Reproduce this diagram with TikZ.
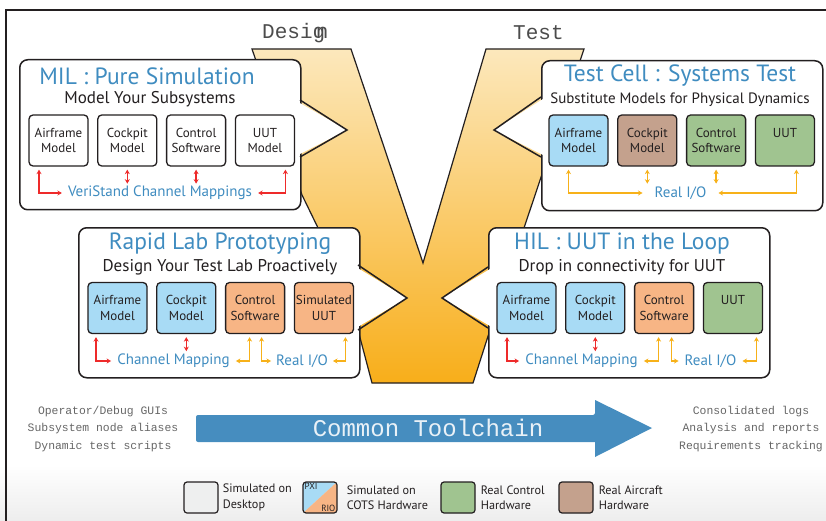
\documentclass[tikz,border=0pt]{standalone}
\usepackage{fontspec}
\setmainfont{PT Sans}
\newfontfamily\monof{Liberation Mono}
\usetikzlibrary{calc}
\usetikzlibrary{arrows.meta}
\usetikzlibrary{positioning}

\definecolor{titleblue}{HTML}{3F8CC0}
\definecolor{boxblue}{HTML}{A8DBF5}
\definecolor{boxorange}{HTML}{F7B585}
\definecolor{boxgreen}{HTML}{A0C490}
\definecolor{boxbrown}{HTML}{C4A18D}
\definecolor{boxgray}{HTML}{EEEFEF}
\definecolor{mapred}{HTML}{EE2A2A}
\definecolor{ioyellow}{HTML}{F7B119}
\definecolor{vtop}{HTML}{FCE8BC}
\definecolor{vbottom}{HTML}{F8AE1A}
\definecolor{toolblue}{HTML}{468DBF}
\definecolor{inkgray}{HTML}{231F20}

\tikzset{
    panel/.style={draw=inkgray,line width=1.5pt,rounded corners=8pt,fill=white,anchor=north west,
        minimum width=281pt,minimum height=150pt,inner sep=0pt},
    sub/.style={draw=inkgray,line width=1.3pt,rounded corners=4pt,minimum width=59pt,minimum height=51pt,
        inner sep=0pt,align=center,text=inkgray,font=\fontsize{13}{15.5}\selectfont},
    title/.style={text=titleblue,font=\fontsize{23.5}{23.5}\selectfont,inner sep=0pt},
    subtitle/.style={text=inkgray,font=\fontsize{17}{17}\selectfont,inner sep=0pt},
    lbl/.style={text=titleblue,font=\fontsize{15}{15}\selectfont,inner ysep=2pt},
    maparr/.style={draw=mapred,line width=1.4pt},
    ioarr/.style={draw=ioyellow,line width=1.4pt},
    vlabel/.style={text=black!70,font=\monof\fontsize{21}{21}\selectfont,inner sep=0pt,anchor=west},
    sidetext/.style={text=black!60,align=center,font=\monof\fontsize{11.4}{17.5}\selectfont},
    legbox/.style={draw=inkgray,line width=1.2pt,rounded corners=3pt,minimum width=34pt,minimum height=31pt,inner sep=0pt},
    legtxt/.style={text=inkgray,align=left,font=\fontsize{12.2}{15.5}\selectfont,inner sep=0pt},
}

\begin{document}
\begin{tikzpicture}[x=1pt,y=-1pt,>={Stealth[length=4.5pt,width=5pt]}]
        \useasboundingbox (0,0) rectangle (826,521);

        % background and frame
        \shade[top color=white,bottom color=black!7] (0,465) rectangle (826,521);
        \draw[line width=1.5pt,inkgray] (6,521) -- (6,10) -- (826,10);

        % the V
        \shadedraw[top color=vtop,bottom color=vbottom,draw=inkgray,line width=1.2pt]
            (252,49) -- (351,49) -- (423,263) -- (486,49) -- (584,49) -- (525,225) -- (490,330)
            -- (473,383) -- (372,383) -- (358,330) -- (320,232) -- (302,195) -- cycle;
        \node[vlabel] (design) at (262,33) {Desig\kern-.45em n};
        \node[vlabel] (test) at (513,33) {Test};

        % MIL : Pure Simulation
        \node[panel] (mil) at (19,59) {};
        \fill[white] (298,102) -- (347,130) -- (298,155) -- cycle;
        \draw[line width=1.5pt,inkgray,line join=miter] (300,100) -- (347,130) -- (300,157);
        \node[title] (milT) at (147,76) {MIL : Pure Simulation};
        \node[subtitle] (milS) at (150,99) {Model Your Subsystems};
        \node[sub] (milA) at (58.5,140.5) {Airframe\\Model};
        \node[sub,right=8.5pt of milA] (milB) {Cockpit\\Model};
        \node[sub,right=8.5pt of milB] (milC) {Control\\Software};
        \node[sub,right=8.5pt of milC] (milD) {UUT\\Model};
        \node[lbl,inner xsep=6pt] (milL) at (160,193) {VeriStand Channel Mappings};
        \draw[maparr,<->] ($(milA.south)+(-19.5,3)$) |- (milL.west);
        \draw[maparr,<->] ($(milB.south)+(0,3)$) -- ++(0,14);
        \draw[maparr,<->] ($(milC.south)+(0,3)$) -- ++(0,14);
        \draw[maparr,<->] ($(milD.south)+(20.5,3)$) |- (milL.east);

        % Test Cell : Systems Test
        \node[panel] (tc) at (541,60) {};
        \fill[white] (543,99) -- (494,130) -- (543,155) -- cycle;
        \draw[line width=1.5pt,inkgray,line join=miter] (541,97) -- (494,130) -- (541,157);
        \node[title] (tcT) at (680,76) {Test Cell : Systems Test};
        \node[subtitle,font=\fontsize{15}{15}\selectfont] (tcS) at (680,100) {Substitute Models for Physical Dynamics};
        \node[sub,fill=boxblue] (tcA) at (578.5,140.5) {Airframe\\Model};
        \node[sub,fill=boxbrown,right=8.5pt of tcA] (tcB) {Cockpit\\Model};
        \node[sub,fill=boxgreen,right=8.5pt of tcB] (tcC) {Control\\Software};
        \node[sub,fill=boxgreen,right=8.5pt of tcC] (tcD) {UUT\\~};
        \node[lbl,inner xsep=12pt] (tcL) at (680.5,193) {Real I/O};
        \draw[ioarr,<->] ($(tcA.south)+(-10,3)$) |- (tcL.west);
        \draw[ioarr,<->] ($(tcB.south)+(0,3)$) -- ++(0,14);
        \draw[ioarr,<->] ($(tcC.south)+(0,3)$) -- ++(0,14);
        \draw[ioarr,<->] ($(tcD.south)+(11.5,3)$) |- (tcL.east);

        % Rapid Lab Prototyping
        \node[panel] (rp) at (78,227) {};
        \fill[white] (356,267) -- (407,298) -- (356,328) -- cycle;
        \draw[line width=1.5pt,inkgray,line join=miter] (358,265) -- (407,298) -- (358,330);
        \node[title] (rpT) at (220,244) {Rapid Lab Prototyping};
        \node[subtitle] (rpS) at (220,267) {Design Your Test Lab Proactively};
        \node[sub,fill=boxblue] (rpA) at (117.5,308) {Airframe\\Model};
        \node[sub,fill=boxblue,right=8.5pt of rpA] (rpB) {Cockpit\\Model};
        \node[sub,fill=boxorange,right=8.5pt of rpB] (rpC) {Control\\Software};
        \node[sub,fill=boxorange,right=8.5pt of rpC] (rpD) {Simulated\\UUT};
        \node[lbl,inner xsep=6pt] (rpL1) at (173.5,361) {Channel Mapping};
        \node[lbl,inner xsep=5pt] (rpL2) at (302,361) {Real I/O};
        \draw[maparr,<->] ($(rpA.south)+(-21.5,3)$) |- (rpL1.west);
        \draw[maparr,<->] ($(rpB.south)+(0,3)$) -- ++(0,14);
        \draw[ioarr,<->] ($(rpC.south)+(-5.5,3)$) |- (rpL1.east);
        \draw[ioarr,<->] ($(rpC.south)+(6.5,3)$) |- (rpL2.west);
        \draw[ioarr,<->] ($(rpD.south)+(21.5,3)$) |- (rpL2.east);

        % HIL : UUT in the Loop
        \node[panel] (hl) at (488,227) {};
        \fill[white] (490,269) -- (442,298) -- (490,326) -- cycle;
        \draw[line width=1.5pt,inkgray,line join=miter] (488,267) -- (442,298) -- (488,328);
        \node[title] (hlT) at (622,244) {HIL : UUT in the Loop};
        \node[subtitle] (hlS) at (622,267) {Drop in connectivity for UUT};
        \node[sub,fill=boxblue] (hlA) at (526.5,308) {Airframe\\Model};
        \node[sub,fill=boxblue,right=8.5pt of hlA] (hlB) {Cockpit\\Model};
        \node[sub,fill=boxorange,right=8.5pt of hlB] (hlC) {Control\\Software};
        \node[sub,fill=boxgreen,right=8.5pt of hlC] (hlD) {UUT\\~};
        \node[lbl,inner xsep=6pt] (hlL1) at (581.5,361) {Channel Mapping};
        \node[lbl,inner xsep=6pt] (hlL2) at (710.5,361) {Real I/O};
        \draw[maparr,<->] ($(hlA.south)+(-19.5,3)$) |- (hlL1.west);
        \draw[maparr,<->] ($(hlB.south)+(0,3)$) -- ++(0,14);
        \draw[ioarr,<->] ($(hlC.south)+(-5.5,3)$) |- (hlL1.east);
        \draw[ioarr,<->] ($(hlC.south)+(7.5,3)$) |- (hlL2.west);
        \draw[ioarr,<->] ($(hlD.south)+(23.5,3)$) |- (hlL2.east);

        % Common toolchain
        \fill[toolblue,rounded corners=2pt] (196,415) -- (595,415) [sharp corners] -- (595,400) -- (652,428)
            -- (595,457) -- (595,442) [rounded corners=2pt] -- (196,442) -- cycle;
        \node[text=white!88!toolblue,font=\monof\fontsize{24}{24}\selectfont] (tool) at (428,428) {Common Toolchain};
        \node[sidetext] (left) at (103,429) {Operator/Debug GUIs\\Subsystem node aliases\\Dynamic test scripts};
        \node[sidetext] (right) at (751,429) {Consolidated logs\\Analysis and reports\\Requirements tracking};

        % legend
        \node[legbox,fill=boxgray] (leg1) at (201,497.5) {};
        \node[legtxt,right=4pt of leg1] (leg1t) {Simulated on\\Desktop};
        \node[legbox,path picture={
            \fill[boxblue] (path picture bounding box.north west) -- (path picture bounding box.north east)
                -- (path picture bounding box.south west) -- cycle;
            \fill[boxorange] (path picture bounding box.south east) -- (path picture bounding box.north east)
                -- (path picture bounding box.south west) -- cycle;}] (leg2) at (320,497.5) {};
        \node[anchor=north west,inner sep=2pt,text=inkgray,font=\fontsize{9}{9}\selectfont] at (leg2.north west) {PXI};
        \node[anchor=south east,inner sep=2pt,text=inkgray,font=\fontsize{9}{9}\selectfont] at (leg2.south east) {RIO};
        \node[legtxt,right=9pt of leg2] (leg2t) {Simulated on\\COTS Hardware};
        \node[legbox,fill=boxgreen] (leg3) at (458,497.5) {};
        \node[legtxt,right=5pt of leg3] (leg3t) {Real Control\\Hardware};
        \node[legbox,fill=boxbrown] (leg4) at (576,497.5) {};
        \node[legtxt,right=5pt of leg4] (leg4t) {Real Aircraft\\Hardware};
\end{tikzpicture}
\end{document}
